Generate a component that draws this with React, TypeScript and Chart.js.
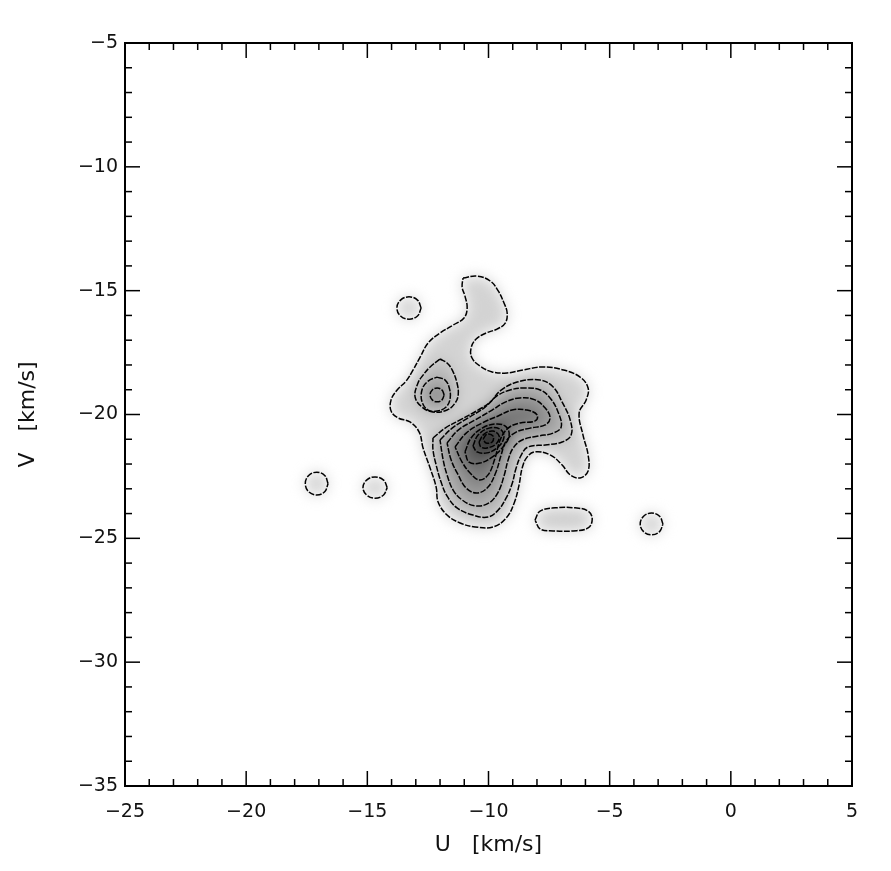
import React, { useEffect, useRef } from 'react';
import { Chart, ScatterController, LineElement, PointElement, LinearScale, Filler } from 'chart.js';

Chart.register(ScatterController, LineElement, PointElement, LinearScale, Filler);

// ---- Data (U, V in km/s) ----
const uRange = [-25, 5];
const vRange = [-35, -5];
const majorStep = 5;
const minorStep = 1;

const outerContour = [
  [-11.05, -14.49], [-10.47, -14.41], [-9.93, -14.61], [-9.60, -15.01], [-9.36, -15.50], [-9.23, -15.90],
  [-9.31, -16.31], [-9.65, -16.55], [-10.10, -16.71], [-10.51, -16.95], [-10.72, -17.32], [-10.68, -17.72],
  [-10.35, -18.04], [-9.85, -18.28], [-9.23, -18.32], [-8.57, -18.20], [-7.75, -18.08], [-6.92, -18.20],
  [-6.22, -18.49], [-5.89, -18.93], [-5.97, -19.41], [-6.26, -19.94], [-6.10, -20.83], [-5.89, -21.63],
  [-5.89, -22.28], [-6.22, -22.56], [-6.63, -22.44], [-6.96, -22.04], [-7.46, -21.63], [-8.08, -21.51],
  [-8.41, -21.72], [-8.61, -22.16], [-8.74, -22.85], [-8.94, -23.57], [-9.27, -24.18], [-9.81, -24.54],
  [-10.55, -24.54], [-11.17, -24.38], [-11.71, -24.06], [-12.08, -23.53], [-12.16, -22.93], [-12.41, -22.16],
  [-12.70, -21.35], [-12.86, -20.71], [-13.24, -20.30], [-13.73, -20.14], [-14.02, -19.86], [-14.02, -19.41],
  [-13.77, -19.01], [-13.40, -18.65], [-13.11, -18.20], [-12.82, -17.68], [-12.49, -17.11], [-12.00, -16.71],
  [-11.46, -16.39], [-11.01, -16.10], [-10.88, -15.70], [-10.97, -15.22], [-11.09, -14.85],
];

const level2Contour = [
  [-12.29, -20.95], [-11.79, -20.55], [-11.17, -20.22], [-10.43, -19.82], [-9.93, -19.50], [-9.52, -19.05],
  [-8.82, -18.69], [-7.87, -18.61], [-7.33, -18.89], [-6.96, -19.50], [-6.63, -20.22], [-6.59, -20.83],
  [-6.96, -21.11], [-7.66, -21.23], [-8.37, -21.31], [-8.65, -21.64], [-8.86, -22.16], [-9.03, -22.81],
  [-9.27, -23.37], [-9.60, -23.86], [-10.02, -24.14], [-10.64, -24.06], [-11.30, -23.77], [-11.71, -23.29],
  [-11.96, -22.72], [-12.16, -22.04], [-12.29, -21.43],
];

const level3Contour = [
  [-12.00, -21.03], [-11.50, -20.55], [-10.84, -20.14], [-10.14, -19.70], [-9.65, -19.25], [-9.11, -19.01],
  [-8.49, -18.93], [-7.87, -19.01], [-7.46, -19.33], [-7.13, -19.90], [-7.00, -20.50], [-7.33, -20.75],
  [-7.95, -20.87], [-8.61, -21.03], [-8.98, -21.35], [-9.19, -21.84], [-9.36, -22.48], [-9.60, -23.13],
  [-9.98, -23.57], [-10.55, -23.69], [-11.09, -23.45], [-11.46, -23.05], [-11.71, -22.44], [-11.87, -21.84],
];

const level4Contour = [
  [-11.71, -21.15], [-11.25, -20.63], [-10.55, -20.22], [-9.85, -19.82], [-9.31, -19.50], [-8.70, -19.33],
  [-8.08, -19.41], [-7.66, -19.74], [-7.46, -20.14], [-7.66, -20.42], [-8.28, -20.55], [-8.86, -20.71],
  [-9.27, -21.07], [-9.48, -21.64], [-9.69, -22.32], [-10.02, -22.93], [-10.47, -23.17], [-10.92, -22.97],
  [-11.25, -22.44], [-11.54, -21.84],
];

const level5Contour = [
  [-11.38, -21.31], [-10.92, -20.75], [-10.26, -20.34], [-9.60, -20.06], [-9.03, -19.82], [-8.41, -19.82],
  [-7.99, -20.02], [-8.08, -20.26], [-8.70, -20.34], [-9.19, -20.55], [-9.52, -21.03], [-9.73, -21.76],
  [-10.02, -22.44], [-10.39, -22.64], [-10.76, -22.36], [-11.09, -21.92],
];

const level6Contour = [
  [-10.97, -21.51], [-10.72, -20.95], [-10.26, -20.55], [-9.69, -20.38], [-9.27, -20.50], [-9.15, -20.87],
  [-9.40, -21.31], [-9.85, -21.72], [-10.35, -21.96], [-10.80, -21.92],
];

const level7Contour = [
  [-10.64, -21.27], [-10.43, -20.83], [-9.98, -20.55], [-9.52, -20.59], [-9.36, -20.91], [-9.60, -21.31],
  [-10.06, -21.55], [-10.47, -21.51],
];

const level8Contour = [
  [-10.39, -21.11], [-10.18, -20.79], [-9.81, -20.67], [-9.56, -20.87], [-9.69, -21.19], [-10.06, -21.35],
  [-10.31, -21.31],
];

const level9Contour = [
  [-10.22, -20.99], [-10.06, -20.79], [-9.81, -20.87], [-9.85, -21.11], [-10.10, -21.15],
];

const subPeakLevel2 = [
  [-12.00, -17.76], [-11.71, -17.92], [-11.50, -18.20], [-11.30, -18.73], [-11.25, -19.21], [-11.38, -19.54],
  [-11.71, -19.82], [-12.29, -19.90], [-12.74, -19.70], [-13.03, -19.29], [-12.91, -18.73], [-12.70, -18.41],
  [-12.41, -18.08],
];

const subPeakLevel3 = [
  [-12.12, -18.49], [-11.79, -18.61], [-11.63, -18.89], [-11.58, -19.33], [-11.75, -19.70], [-12.12, -19.86],
  [-12.49, -19.82], [-12.74, -19.50], [-12.74, -18.99], [-12.49, -18.65],
];

const subPeakLevel4 = [
  [-11.83, -19.21], [-11.92, -19.01], [-12.12, -18.93], [-12.32, -19.01], [-12.41, -19.21], [-12.32, -19.41],
  [-12.12, -19.49], [-11.92, -19.41],
];

const islandTop = [
  [-12.78, -15.70], [-12.93, -15.38], [-13.28, -15.25], [-13.63, -15.38], [-13.78, -15.70], [-13.63, -16.02],
  [-13.28, -16.15], [-12.93, -16.02],
];

const islandFarLeft = [
  [-16.62, -22.79], [-16.76, -22.46], [-17.09, -22.33], [-17.42, -22.46], [-17.56, -22.79], [-17.42, -23.12],
  [-17.09, -23.25], [-16.76, -23.12],
];

const islandLeft = [
  [-14.18, -22.95], [-14.33, -22.65], [-14.68, -22.52], [-15.03, -22.65], [-15.18, -22.95], [-15.03, -23.25],
  [-14.68, -23.38], [-14.33, -23.25],
];

const islandRight = [
  [-2.80, -24.42], [-2.94, -24.11], [-3.27, -23.98], [-3.60, -24.11], [-3.74, -24.42], [-3.60, -24.73],
  [-3.27, -24.86], [-2.94, -24.73],
];

const islandLowMid = [
  [-8.08, -24.26], [-7.87, -23.90], [-7.25, -23.77], [-6.43, -23.77], [-5.89, -23.90], [-5.72, -24.22],
  [-5.89, -24.58], [-6.51, -24.70], [-7.33, -24.70], [-7.87, -24.62],
];

// layer -> shade (outer first)
const layers: [number[][], string][] = [
  [islandTop, '#d4d4d4'],
  [islandFarLeft, '#d4d4d4'],
  [islandLeft, '#d4d4d4'],
  [islandRight, '#d4d4d4'],
  [islandLowMid, '#d0d0d0'],
  [outerContour, '#d3d3d3'],
  [subPeakLevel2, '#bcbcbc'],
  [subPeakLevel3, '#a4a4a4'],
  [subPeakLevel4, '#8a8a8a'],
  [level2Contour, '#bbbbbb'],
  [level3Contour, '#a4a4a4'],
  [level4Contour, '#8c8c8c'],
  [level5Contour, '#747474'],
  [level6Contour, '#5c5c5c'],
  [level7Contour, '#454545'],
  [level8Contour, '#313131'],
  [level9Contour, '#1c1c1c'],
];

const toPts = (c: number[][]) => [...c, c[0]].map(([x, y]) => ({ x, y }));
const fmt = (v: number | string) => String(v).replace('-', '\u2212');

const W = 891;
const H = 871;
const PAD = { left: 0, top: 43, right: 39, bottom: 0 };
const Y_W = 125;
const X_H = 85;
const FONT = 'DejaVu Sans';

function scalesFor(show: boolean): any {
  return {
    x: {
      type: 'linear', min: uRange[0], max: uRange[1], display: show,
      grid: { display: false, drawTicks: false },
      border: { display: false },
      ticks: { stepSize: majorStep, autoSkip: false, maxRotation: 0, padding: 15, color: '#111', font: { family: FONT, size: 19 }, callback: (v: number) => fmt(v) },
      title: { display: true, text: 'U   [km/s]', color: '#111', font: { family: FONT, size: 22 }, padding: { top: 0, bottom: 13 } },
      afterFit: (s: any) => { s.height = X_H; },
    },
    y: {
      type: 'linear', min: vRange[0], max: vRange[1], display: show,
      grid: { display: false, drawTicks: false },
      border: { display: false },
      ticks: { stepSize: majorStep, autoSkip: false, padding: 7, color: '#111', font: { family: FONT, size: 19 }, callback: (v: number) => fmt(v) },
      title: { display: true, text: 'V   [km/s]', color: '#111', font: { family: FONT, size: 22 }, padding: { top: 15, bottom: 0 } },
      afterFit: (s: any) => { s.width = Y_W; },
    },
  };
}

const framePlugin = {
  id: 'idlFrame',
  afterDraw(chart: any) {
    const { ctx, chartArea: a, scales } = chart;
    const xs = scales.x;
    const ys = scales.y;
    ctx.save();
    ctx.strokeStyle = '#000';
    ctx.lineWidth = 1.5;
    const seg = (x1: number, y1: number, x2: number, y2: number) => {
      ctx.beginPath(); ctx.moveTo(x1, y1); ctx.lineTo(x2, y2); ctx.stroke();
    };
    for (let v = uRange[0]; v <= uRange[1] + 1e-9; v += minorStep) {
      const px = xs.getPixelForValue(v);
      const len = Math.abs(v % majorStep) < 1e-9 ? 15 : 7;
      seg(px, a.bottom, px, a.bottom - len);
      seg(px, a.top, px, a.top + len);
    }
    for (let v = vRange[0]; v <= vRange[1] + 1e-9; v += minorStep) {
      const py = ys.getPixelForValue(v);
      const len = Math.abs(v % majorStep) < 1e-9 ? 15 : 7;
      seg(a.left, py, a.left + len, py);
      seg(a.right, py, a.right - len, py);
    }
    ctx.lineWidth = 2;
    ctx.strokeRect(a.left, a.top, a.right - a.left, a.bottom - a.top);
    ctx.restore();
  },
};

export default function App() {
  const shadeRef = useRef<HTMLCanvasElement>(null);
  const lineRef = useRef<HTMLCanvasElement>(null);

  useEffect(() => {
    const shade = new Chart(shadeRef.current!, {
      type: 'scatter',
      data: {
        datasets: layers.map(([c, col], i) => ({
          data: toPts(c),
          showLine: true,
          fill: 'shape',
          backgroundColor: col,
          borderColor: 'rgba(0,0,0,0)',
          borderWidth: 0,
          pointRadius: 0,
          tension: 0.4,
          order: layers.length - i,
        })) as any,
      },
      options: {
        animation: false,
        responsive: false,
        devicePixelRatio: 1,
        layout: { padding: PAD },
        plugins: { legend: { display: false }, tooltip: { enabled: false } },
        scales: scalesFor(false),
        events: [],
      } as any,
    });

    const lines = new Chart(lineRef.current!, {
      type: 'scatter',
      data: {
        datasets: layers.map(([c]) => ({
          data: toPts(c),
          showLine: true,
          fill: false,
          borderColor: '#000',
          borderWidth: 1.5,
          borderDash: [6, 1.5],
          pointRadius: 0,
          tension: 0.4,
        })) as any,
      },
      options: {
        animation: false,
        responsive: false,
        devicePixelRatio: 1,
        layout: { padding: PAD },
        plugins: { legend: { display: false }, tooltip: { enabled: false } },
        scales: scalesFor(true),
        events: [],
      } as any,
      plugins: [framePlugin],
    });

    return () => { shade.destroy(); lines.destroy(); };
  }, []);

  return (
    <div style={{ position: 'fixed', left: 0, top: 0, width: W, height: H, background: '#fff' }}>
      <canvas ref={shadeRef} width={W} height={H} style={{ position: 'absolute', left: 0, top: 0, width: W, height: H, filter: 'blur(7px)' }} />
      <canvas ref={lineRef} width={W} height={H} style={{ position: 'absolute', left: 0, top: 0, width: W, height: H }} />
    </div>
  );
}
